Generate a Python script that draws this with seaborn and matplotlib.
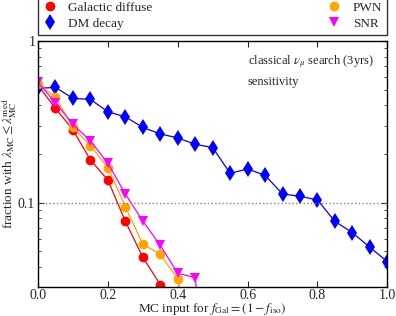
import matplotlib
matplotlib.use("Agg")
import matplotlib.pyplot as plt
import matplotlib.ticker as mticker
import seaborn as sns
import pandas as pd

x_gal = [0.0, 0.05, 0.10, 0.15, 0.20, 0.25, 0.30, 0.35]
y_gal = [0.53, 0.384, 0.282, 0.184, 0.138, 0.0767, 0.046, 0.0311]

x_dm = [0.0, 0.05, 0.10, 0.15, 0.20, 0.25, 0.30, 0.35, 0.40, 0.45, 0.50,
        0.55, 0.60, 0.65, 0.70, 0.75, 0.80, 0.85, 0.90, 0.95, 1.00]
y_dm = [0.510, 0.517, 0.442, 0.436, 0.365, 0.340, 0.2925, 0.266, 0.252, 0.2297, 0.2195,
        0.152, 0.1616, 0.1477, 0.1132, 0.1096, 0.1039, 0.0767, 0.0652, 0.053, 0.0432]

x_pwn = [0.0, 0.05, 0.10, 0.15, 0.20, 0.25, 0.30, 0.35, 0.40, 0.45]
y_pwn = [0.54, 0.4525, 0.292, 0.225, 0.1646, 0.0945, 0.0553, 0.048, 0.0337, 0.007]

x_snr = [0.0, 0.05, 0.10, 0.15, 0.20, 0.25, 0.30, 0.35, 0.40, 0.45, 0.50]
y_snr = [0.555, 0.4155, 0.305, 0.2417, 0.1752, 0.1132, 0.077, 0.0545, 0.0366, 0.0344, 0.003]

sns.set_style("ticks")
plt.rcParams['font.family'] = ['Liberation Serif', 'DejaVu Serif']
plt.rcParams['mathtext.fontset'] = 'stix'

fig = plt.figure(figsize=(3.96, 3.16), dpi=100)
ax = fig.add_axes([0.096, 0.0927, 0.882, 0.7773])

series = [
    ("Galactic diffuse", x_gal, y_gal, "#ff0000", "o", 7),
    ("DM decay", x_dm, y_dm, "#0000ff", "d", 8),
    ("PWN", x_pwn, y_pwn, "#ffa500", "o", 7),
    ("SNR", x_snr, y_snr, "#ff00ff", "v", 7.5),
]
for name, xs, ys, col, mk, ms in series:
    df = pd.DataFrame({"x": xs, "y": ys})
    sns.lineplot(data=df, x="x", y="y", ax=ax, color=col, marker=mk,
                 markersize=ms, markeredgewidth=0, linewidth=0.9, label=name)

ax.axhline(0.1, color="gray", linestyle=":", linewidth=1.0)

ax.set_yscale("log")
ax.set_xlim(0, 1.0)
ax.set_ylim(0.0302, 1.0)
ax.xaxis.set_major_locator(mticker.MultipleLocator(0.2))
ax.xaxis.set_major_formatter(mticker.FormatStrFormatter("%.1f"))
ax.yaxis.set_major_locator(mticker.FixedLocator([0.1, 1.0]))
ax.yaxis.set_major_formatter(mticker.FixedFormatter(["0.1", "1"]))
ax.yaxis.set_minor_locator(mticker.LogLocator(base=10, subs=range(2, 10)))
ax.yaxis.set_minor_formatter(mticker.NullFormatter())
ax.tick_params(which="both", direction="in", top=True, right=True, labelsize=10, pad=2)
ax.tick_params(axis="x", pad=1.5)
ax.tick_params(which="major", length=4)
ax.tick_params(which="minor", length=2.5)
for s in ax.spines.values():
    s.set_linewidth(1.0)
    s.set_color("black")

ax.set_xlabel(r"MC input for $f_{\rm Gal} = (1 - f_{\rm iso})$", fontsize=9.5, labelpad=-0.5)
ax.set_ylabel(r"fraction with $\lambda_{\rm MC} \leq \lambda_{\rm MC}^{\rm med}$", fontsize=9.5, labelpad=-0.5)

ax.text(0.60, 0.915, r"classical $\nu_\mu$ search (3yrs)", transform=ax.transAxes,
        fontsize=9, va="center", ha="left")
ax.text(0.60, 0.835, "sensitivity", transform=ax.transAxes,
        fontsize=9, va="center", ha="left")

leg = ax.legend(loc="lower left", bbox_to_anchor=(0.0, 1.024, 1.0, 0.14), mode="expand",
                ncol=2, fontsize=9.5, frameon=True, fancybox=False, borderaxespad=0,
                handlelength=1.0, handletextpad=0.9, borderpad=0.4, labelspacing=0.3)
leg.get_frame().set_edgecolor("black")
leg.get_frame().set_linewidth(1.0)
for h in leg.legend_handles:
    h.set_linestyle("none")

fig.savefig("out.png", dpi=100)
